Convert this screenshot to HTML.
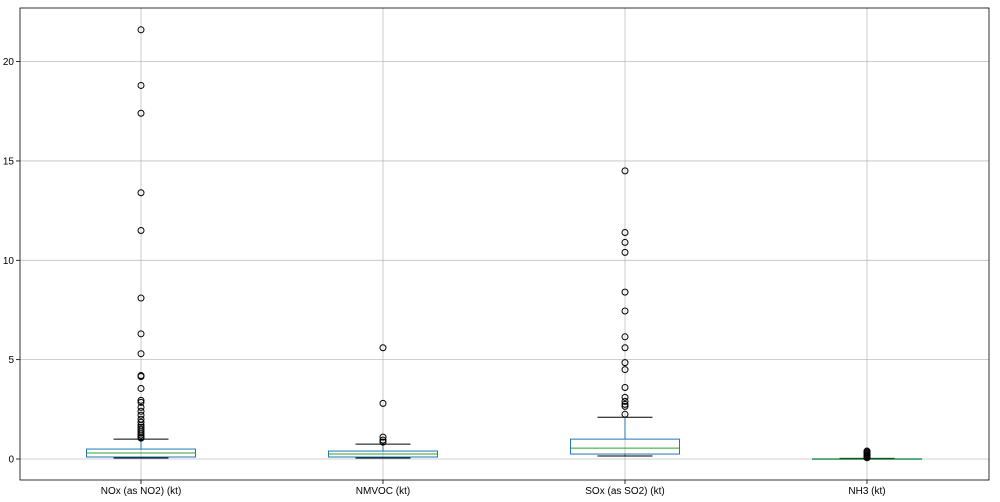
<!DOCTYPE html>
<html><head><meta charset="utf-8"><style>body{margin:0;background:#fff}svg{display:block}text{font-family:"Liberation Sans",sans-serif;font-size:10px;fill:#000}</style></head>
<body><svg id="s" width="1000" height="502" xmlns="http://www.w3.org/2000/svg"></svg>
<script>
const s=document.getElementById('s');let h='';
const Y=v=>459-v*19.87;
// grid
[0,5,10,15,20].forEach(v=>{const y=Y(v);h+=`<line x1="20" x2="989" y1="${y}" y2="${y}" stroke="#b0b0b0" stroke-width="0.8" opacity="0.8"/><line x1="16" x2="20" y1="${y}" y2="${y}" stroke="#000" stroke-width="0.8"/><text x="14" y="${y+3.5}" text-anchor="end">${v}</text>`;});
const X=[141,383,625,867];
X.forEach(x=>{h+=`<line x1="${x}" x2="${x}" y1="8" y2="480" stroke="#b0b0b0" stroke-width="0.8" opacity="0.8"/><line x1="${x}" x2="${x}" y1="480" y2="484" stroke="#000" stroke-width="0.8"/>`;});
const D=[
 {q1:0.1,q3:0.5,med:0.3,lo:0.05,hi:1.0,o:[21.6,18.8,17.4,13.4,11.5,8.1,6.3,5.3,4.2,4.15,3.55,2.95,2.85,2.6,2.4,2.2,2.0,1.85,1.7,1.6,1.5,1.4,1.3,1.2,1.1,1.05]},
 {q1:0.1,q3:0.4,med:0.25,lo:0.05,hi:0.75,o:[5.6,2.8,1.1,0.95,0.85]},
 {q1:0.25,q3:1.0,med:0.55,lo:0.15,hi:2.1,o:[14.5,11.4,10.9,10.4,8.4,7.45,6.15,5.6,4.85,4.5,3.6,3.1,2.9,2.75,2.65,2.25]},
 {q1:0,q3:0.01,med:0,lo:0,hi:0.03,o:[0.4,0.35,0.3,0.25,0.2,0.15,0.1,0.06]}
];
D.forEach((d,i)=>{const x=X[i],w=54.5,c=27.5;
 h+=`<line x1="${x}" x2="${x}" y1="${Y(d.hi)}" y2="${Y(d.q3)}" stroke="#1f77b4"/><line x1="${x}" x2="${x}" y1="${Y(d.q1)}" y2="${Y(d.lo)}" stroke="#1f77b4"/>`;
 h+=`<rect x="${x-w}" y="${Y(d.q3)}" width="${2*w}" height="${Math.max(0.5,Y(d.q1)-Y(d.q3))}" fill="none" stroke="#1f77b4"/>`;
 h+=`<line x1="${x-c}" x2="${x+c}" y1="${Y(d.hi)}" y2="${Y(d.hi)}" stroke="#000"/><line x1="${x-c}" x2="${x+c}" y1="${Y(d.lo)}" y2="${Y(d.lo)}" stroke="#000"/>`;
 h+=`<line x1="${x-w}" x2="${x+w}" y1="${Y(d.med)}" y2="${Y(d.med)}" stroke="#2ca02c"/>`;
 d.o.forEach(v=>{h+=`<circle cx="${x}" cy="${Y(v)}" r="3" fill="none" stroke="#000"/>`;});
});
h+=`<rect x="20" y="8" width="969" height="472" fill="none" stroke="#000" stroke-width="0.8"/>`;
const L=["NOx (as NO2) (kt)","NMVOC (kt)","SOx (as SO2) (kt)","NH3 (kt)"];
L.forEach((t,i)=>{h+=`<text x="${X[i]}" y="494" text-anchor="middle">${t}</text>`;});
s.innerHTML=h;
</script></body></html>
